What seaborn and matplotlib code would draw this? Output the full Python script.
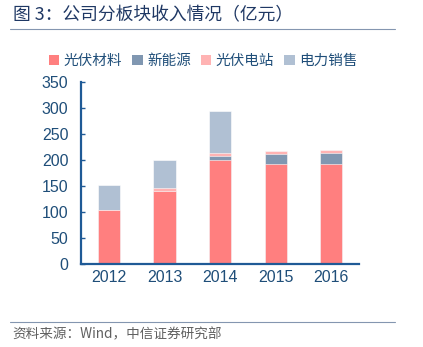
import matplotlib
matplotlib.use("Agg")
import matplotlib.pyplot as plt
import seaborn as sns
import numpy as np
import pandas as pd
from matplotlib.patches import Patch
from matplotlib.lines import Line2D

years = ["2012", "2013", "2014", "2015", "2016"]
series_names = ["光伏材料", "新能源", "光伏电站", "电力销售"]
pv_materials = [105, 141, 200, 192, 192]
new_energy = [0, 0, 8, 21, 23]
pv_station = [0, 6, 7, 5, 5]
power_sales = [48, 53, 79, 0, 0]
colors = ["#FF7F7F", "#8097B1", "#FFB3B3", "#B0C0D3"]
yticks = [0, 50, 100, 150, 200, 250, 300, 350]

sns.set_theme(style="white")
plt.rcParams["font.family"] = ["Liberation Sans", "Noto Sans CJK SC", "DejaVu Sans"]

axis_col = "#1F5A96"
text_col = "#1F4E79"

fig = plt.figure(figsize=(4.23, 3.47), dpi=100)
ax = fig.add_axes([0.1915, 0.2383, 0.849 - 0.1915, 0.7628 - 0.2383])

vals = np.array([pv_materials, new_energy, pv_station, power_sales], dtype=float)
cum = np.cumsum(vals, axis=0)
# draw from top of stack down so lower segments cover upper totals
for i in range(len(series_names) - 1, -1, -1):
    df = pd.DataFrame({"year": years, "v": cum[i]})
    sns.barplot(data=df, x="year", y="v", color=colors[i], width=0.4,
                saturation=1, edgecolor="white", linewidth=0.4, ax=ax)

ax.set_ylim(0, 350)
ax.set_xlim(-0.5, 4.5)
ax.set_yticks(yticks)
ax.set_xlabel("")
ax.set_ylabel("")
for s in ["top", "right"]:
    ax.spines[s].set_visible(False)
for s in ["left", "bottom"]:
    ax.spines[s].set_color(axis_col)
    ax.spines[s].set_linewidth(1.6)
ax.set_xticks(np.arange(-0.5, 5, 1), minor=True)
ax.tick_params(axis="x", which="major", length=0, labelsize=11.5, labelcolor=text_col, pad=4)
ax.tick_params(axis="x", which="minor", length=4, width=1.2, color=axis_col, direction="out")
ax.tick_params(axis="y", which="major", length=3, width=1, color=axis_col, direction="in",
               labelsize=11.5, labelcolor=text_col, pad=9, left=True)

handles = [Patch(facecolor=c, edgecolor="none") for c in colors]
fig.legend(handles, series_names, loc="center left", bbox_to_anchor=(0.085, 0.824),
           ncol=4, frameon=False, handlelength=0.7, handleheight=0.7, handletextpad=0.3,
           columnspacing=0.7, prop={"family": ["Noto Sans CJK SC"], "size": 10.5},
           labelcolor=text_col)

fig.text(0.03, 0.955, "图 3：公司分板块收入情况（亿元）", ha="left", va="center",
         fontsize=12.8, color="#1F3864", family=["Noto Sans CJK SC", "DejaVu Sans"])
fig.add_artist(Line2D([0.024, 0.934], [0.9155, 0.9155], color="#8496B0", linewidth=0.8))
fig.add_artist(Line2D([0.024, 0.934], [0.073, 0.073], color="#8496B0", linewidth=0.8))
fig.text(0.03, 0.037, "资料来源：Wind，中信证券研究部", ha="left", va="center",
         fontsize=9.8, color="#606060", family=["Noto Sans CJK SC", "DejaVu Sans"])

fig.savefig("out.png", dpi=100)
